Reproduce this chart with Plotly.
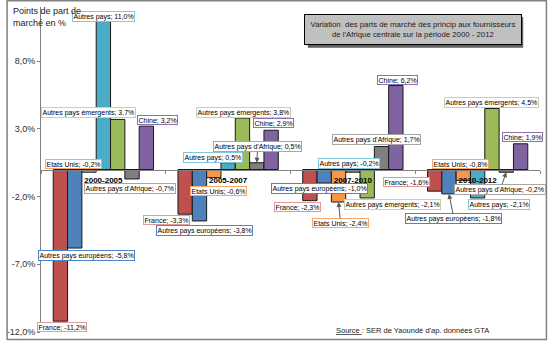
import plotly.graph_objects as go

periods = ["2000-2005", "2005-2007", "2007-2010", "2010-2012"]
series_names = ["France", "Autres pays européens", "Etats Unis", "Autres pays",
                "Autres pays émergents", "Autres pays d'Afrique", "Chine"]
france = [-11.2, -3.3, -2.3, -1.6]
autres_europeens = [-5.8, -3.8, -1.0, -1.8]
etats_unis = [-0.2, -0.6, -2.4, -0.8]
autres_pays = [11.0, 0.5, -0.2, -2.1]
emergents = [3.7, 3.8, -2.1, 4.5]
afrique = [-0.7, 0.5, 1.7, -0.2]
chine = [3.2, 2.9, 6.2, 1.9]
values = [france, autres_europeens, etats_unis, autres_pays, emergents, afrique, chine]

y_tickvals = [-12, -7, -2, 3, 8]
y_ticktext = ["-12,0%", "-7,0%", "-2,0%", "3,0%", "8,0%"]

bar_colors = ["#C0504D", "#4F81BD", "#F79646", "#4BACC6", "#9BBB59", "#7F7F7F", "#8064A2"]
label_borders = ["#E09A98", "#4A86C8", "#F8A868", "#80C8DC", "#C3D69B", "#A6A6A6", "#8E72B0"]

# label offsets in px (dx right, dy down) relative to bar tip, per series per period
label_dx = [[2, -19, -12, -28], [12, 5, -5, 5], [-16, 5, 2, -3], [0, -15, -4, 21],
            [-29, 1, 25, 0], [-2, 1, -5, -6], [11, 2, 2, 2]]
label_dy = [[6, 6, 6, -9], [7, 10, 5, 25], [-8, 13, 21, -16], [-4, -5, -9, 7],
            [-7, -6, 7, -6], [10, -16, -7, 17], [-6, -7, -6, -7]]
arrows = {(5, 1), (2, 2), (1, 3), (5, 3)}

bargap = 0.196
bw = (1 - bargap) / 7

fig = go.Figure()
for i, name in enumerate(series_names):
    fig.add_trace(go.Bar(x=periods, y=values[i], name=name,
                         marker=dict(color=bar_colors[i], line=dict(color="#1a1a1a", width=1))))

annotations = []
for i, name in enumerate(series_names):
    for k in range(len(periods)):
        v = values[i][k]
        txt = f"{name}; {v:.1f}".replace(".", ",") + "%"
        xc = k + (i - 3) * bw
        base = dict(x=xc, y=v, xref="x", yref="y", text=txt,
                    font=dict(family="Liberation Sans", size=7, color="#000000"),
                    bgcolor="#FFFFFF", bordercolor=label_borders[i], borderwidth=1, borderpad=0.5)
        if (i, k) in arrows:
            base.update(showarrow=True, ax=label_dx[i][k], ay=label_dy[i][k],
                        arrowhead=2, arrowsize=1, arrowwidth=1, arrowcolor="#595959", standoff=0)
        else:
            base.update(showarrow=False, xshift=label_dx[i][k], yshift=-label_dy[i][k])
        annotations.append(base)

L, R, T, B = 35, 8, 7, 9
W, H = 548, 344
pw, ph = W - L - R, H - T - B
def px(x):
    return (x - L) / pw
def py(y):
    return (H - B - y) / ph

annotations.append(dict(xref="paper", yref="paper", x=px(5), y=py(4), xanchor="left", yanchor="top",
                        align="left", showarrow=False, text="Points de part de<br>marché en %",
                        font=dict(family="Liberation Sans", size=9, color="#202020")))
annotations.append(dict(xref="paper", yref="paper", x=px(411), y=py(29.5), xanchor="center", yanchor="middle",
                        showarrow=False, width=214, height=27, bgcolor="#C0C0C0", bordercolor="#000000",
                        borderwidth=1, borderpad=1,
                        text="Variation  des parts de marché des princip aux fournisseurs<br>de l'Afrique centrale sur la période 2000 - 2012",
                        font=dict(family="Liberation Sans", size=7.8, color="#202020")))
annotations.append(dict(xref="paper", yref="paper", x=px(411), y=py(333), xanchor="center", yanchor="middle",
                        showarrow=False, text="<u>Source </u>: SER de Yaoundé d'ap. données GTA",
                        font=dict(family="Liberation Sans", size=7.5, color="#202020")))

shapes = [
    dict(type="rect", xref="paper", yref="paper", x0=px(305), y0=py(17), x1=px(523), y1=py(48),
         fillcolor="#606060", line=dict(width=0), layer="below"),
    dict(type="rect", xref="paper", yref="paper", x0=px(0.7), y0=py(0.7), x1=px(546.5), y1=py(342.5),
         line=dict(color="#808080", width=1.5), fillcolor="rgba(0,0,0,0)"),
]

fig.update_layout(
    width=W, height=H, margin=dict(l=L, r=R, t=T, b=B),
    paper_bgcolor="#FFFFFF", plot_bgcolor="#FFFFFF",
    barmode="group", bargap=bargap, bargroupgap=0, showlegend=False,
    font=dict(family="Liberation Sans", size=9, color="#202020"),
    xaxis=dict(type="category", anchor="free", position=0.5, showline=True, linecolor="#808080",
               linewidth=1, ticks="outside", ticklen=3, tickcolor="#808080", tickson="boundaries",
               ticklabelstandoff=3,
               tickfont=dict(family="Liberation Sans", size=8, color="#000000", weight="bold"),
               showgrid=False, range=[-0.5, 3.5]),
    yaxis=dict(range=[-12, 12], tickvals=y_tickvals, ticktext=y_ticktext, showline=True,
               linecolor="#808080", linewidth=1, ticks="outside", ticklen=3, tickcolor="#808080",
               showgrid=False, zeroline=False,
               tickfont=dict(family="Liberation Sans", size=9, color="#303030")),
    annotations=annotations, shapes=shapes,
)

fig.write_html("out.html")
